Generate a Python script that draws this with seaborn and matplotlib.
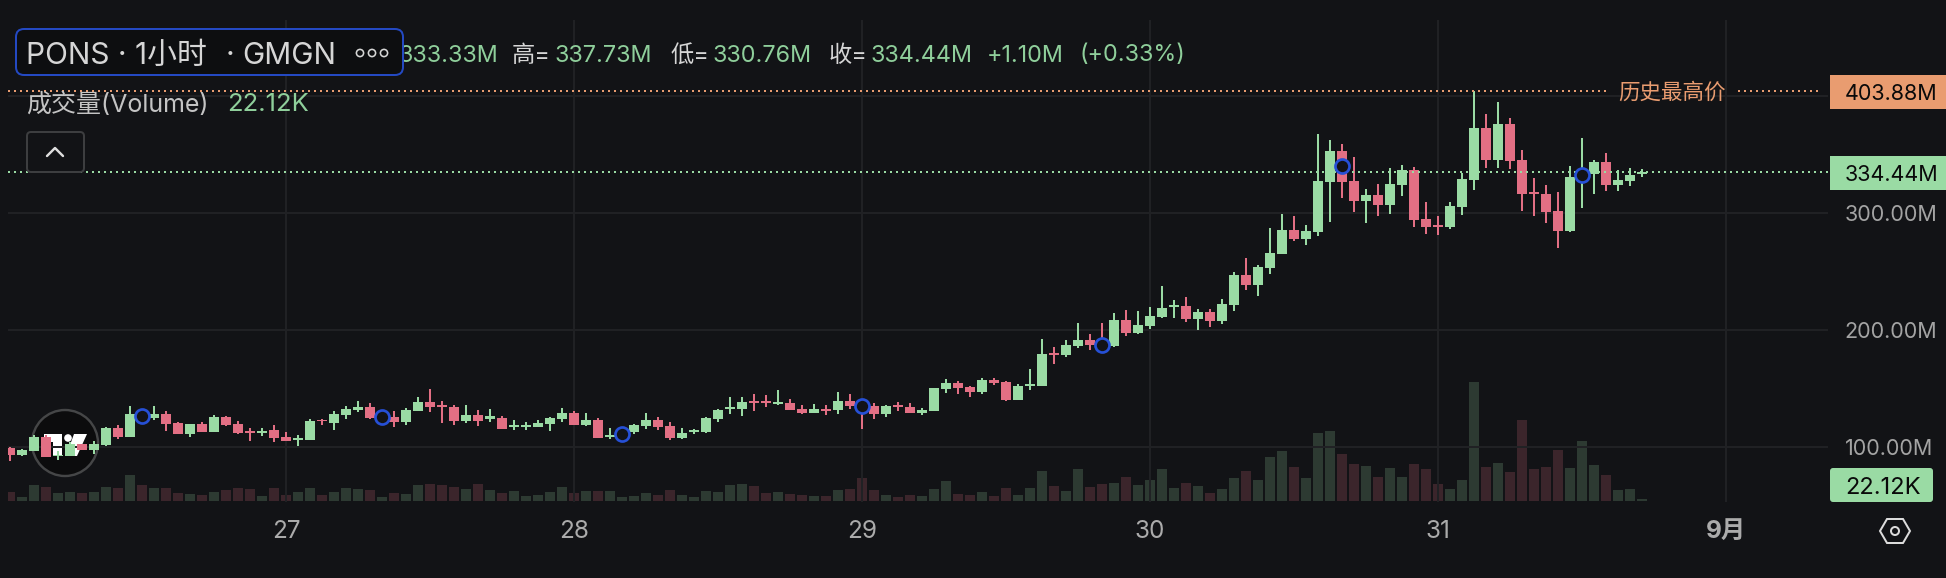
import numpy as np
import pandas as pd
import matplotlib
matplotlib.use("Agg")
import matplotlib.pyplot as plt
from matplotlib.patches import Circle, FancyBboxPatch, Polygon, Rectangle
import seaborn as sns

# 1 hour candles, prices in millions, volume in thousands
opens = [98.6,93.2,96.0,108.0,92.0,92.3,102.3,97.4,101.4,116.0,108.3,128.5,124.5,127.9,120.2,110.8,119.4,112.5,125.4,119.4,
         113.4,111.7,114.2,108.3,105.7,105.7,122.8,120.2,127.1,131.3,133.9,123.6,125.4,121.1,130.5,138.2,135.6,133.9,121.9,127.1,
         123.6,124.5,116.8,116.8,116.8,119.4,123.6,128.8,118.5,122.8,108.3,108.5,112.5,117.7,122.8,117.7,107.4,112.5,112.5,123.6,
         132.2,132.2,139.0,139.0,136.5,137.3,132.2,128.8,132.2,131.3,139.0,138.5,134.8,127.9,135.6,133.9,128.8,130.5,149.3,154.4,
         151.0,146.7,157.0,155.3,139.9,151.9,151.9,180.1,178.3,186.0,191.2,191.7,186.0,208.3,197.2,203.1,210.8,219.4,220.2,209.1,
         215.1,207.4,221.1,246.7,238.2,252.7,264.7,285.2,277.5,283.5,326.2,352.7,327.1,310.0,315.1,306.6,323.6,336.5,294.6,289.5,
         287.8,304.8,327.9,372.4,345.0,375.8,345.0,317.7,316.0,301.4,284.3,329.9,333.0,343.3,323.6,327.1,333.33]
highs = [99.4,98.0,109.7,109.7,96.3,104.3,102.3,104.8,116.8,118.5,134.8,129.9,134.8,130.5,121.1,119.4,121.1,127.1,126.2,121.9,
         116.0,116.0,118.5,112.5,110.0,123.6,123.6,130.5,134.8,139.0,137.3,129.9,130.5,133.0,142.5,149.3,139.0,135.6,135.6,131.3,
         132.2,126.2,122.8,121.1,122.8,125.4,133.0,130.5,128.8,124.5,116.0,115.7,119.4,128.8,125.4,121.1,116.0,115.1,125.4,132.2,
         142.5,142.5,145.0,144.2,148.4,140.7,135.6,136.5,135.6,146.7,145.0,139.9,137.3,135.6,138.2,137.3,133.0,150.1,157.8,156.1,
         151.9,158.7,158.7,156.1,153.6,166.4,192.0,185.2,191.2,205.7,196.3,205.7,214.2,216.8,216.0,219.4,237.3,225.4,227.9,217.7,
         217.7,226.2,249.3,261.3,255.3,286.9,298.9,297.2,289.5,367.2,362.1,358.7,347.6,320.2,324.5,338.2,340.7,339.0,309.1,297.2,
         309.1,333.9,403.88,384.3,394.6,380.9,353.6,329.6,323.6,317.7,339.9,363.8,345.0,351.0,336.5,338.2,337.73]
lows = [87.8,92.0,96.0,91.5,88.6,92.3,97.4,94.0,100.6,106.6,108.3,123.4,122.8,113.4,110.8,108.3,112.5,112.5,117.7,110.8,
        104.8,109.1,104.0,104.8,100.6,105.7,118.5,114.2,123.6,129.6,123.6,122.2,116.8,118.5,130.5,129.6,120.2,118.5,120.2,117.7,
        121.1,115.1,114.2,114.2,116.8,113.4,121.1,118.5,117.7,107.4,106.6,106.3,110.8,115.1,114.2,105.7,106.6,110.8,111.7,121.1,
        127.9,126.2,130.5,133.9,135.6,131.3,127.9,128.8,127.1,127.9,132.2,115.1,123.6,125.4,130.5,128.8,127.1,130.5,145.9,145.0,
        142.5,145.0,152.7,139.0,139.9,148.4,151.9,170.7,176.6,184.3,182.6,182.6,185.2,194.6,196.3,200.6,210.0,210.0,206.6,199.7,
        202.3,204.8,216.0,233.9,228.8,247.6,264.7,275.8,272.4,280.1,292.0,312.5,300.6,291.2,297.2,298.9,314.2,287.8,281.8,280.9,
        286.0,298.0,319.4,338.2,338.2,337.3,301.4,297.2,291.2,269.8,283.5,304.0,316.0,318.5,318.5,322.8,330.76]
closes = [93.2,97.2,108.0,91.5,93.2,102.3,97.4,102.3,116.0,108.3,127.9,124.8,127.9,119.4,110.8,119.4,112.5,125.4,118.5,111.7,
          111.7,113.4,107.4,104.8,107.4,121.9,121.9,127.9,132.2,133.9,124.5,127.1,121.1,131.3,138.2,133.9,133.9,121.9,127.1,121.9,
          126.2,115.1,118.5,118.5,120.2,124.5,128.8,118.5,122.8,107.4,110.0,114.2,118.5,122.8,116.8,107.4,111.7,114.2,124.5,131.3,
          133.9,138.2,137.3,137.3,138.2,131.3,128.8,132.2,130.5,139.0,134.8,131.3,127.9,134.8,133.9,128.8,131.3,150.1,154.4,150.1,
          146.7,157.0,154.4,139.9,151.9,153.6,179.2,178.3,186.9,191.2,186.9,184.0,208.3,197.2,204.0,211.7,218.5,221.1,209.1,215.1,
          207.4,221.9,246.7,238.2,253.6,265.5,285.2,277.5,284.3,327.1,352.7,326.2,310.0,315.1,306.6,324.5,336.5,293.7,287.8,287.8,
          305.7,328.8,372.4,345.0,375.8,344.2,316.0,316.0,300.6,284.3,330.5,333.6,343.3,323.6,327.9,332.2,334.44]
volumes = [119,53,212,186,106,119,106,119,186,172,345,212,172,172,106,93,80,119,146,172,
           159,66,172,80,119,172,80,119,172,159,146,53,106,93,212,225,212,186,159,225,
           146,106,133,66,80,119,186,106,133,133,133,53,66,106,80,146,80,53,133,119,
           212,225,199,106,119,93,80,66,66,146,159,305,146,80,53,80,66,159,265,93,
           80,119,66,172,80,172,398,199,133,424,186,225,239,318,212,278,424,172,239,199,
           106,159,305,398,278,583,663,451,305,902,928,623,491,464,318,438,318,491,424,225,
           159,278,1578,451,504,385,1074,424,451,676,438,796,477,345,146,159,22.12]

# blue event rings: candle index and price level
ring_idx = [11, 31, 51, 71, 91, 111, 131]
ring_price = [126.2, 125.4, 110.8, 134.8, 186.9, 339.9, 332.2]

day_idx = [23, 47, 71, 95, 119, 143]
day_labels = ["27", "28", "29", "30", "31", "9月"]
price_ticks = [100, 200, 300, 400]
price_labels = ["100.00M", "200.00M", "300.00M", ""]
ath_price = 403.88
last_price = 334.44

BG = "#121316"
GRID = "#202124"
GREEN = "#9ADBA4"
RED = "#E26F84"
TEXT_GREEN = "#8FCF9B"
ORANGE = "#E99C70"
BLUE = "#2650D6"
W, H = 1946, 578
LW = 0.72  # points per pixel at dpi 100

sns.set_theme(style="dark", rc={"figure.facecolor": BG, "axes.facecolor": BG, "savefig.facecolor": BG})
plt.rcParams["font.family"] = ["Inter", "Noto Sans CJK SC", "DejaVu Sans"]
plt.rcParams["lines.dash_capstyle"] = "butt"

df = pd.DataFrame({"idx": np.arange(len(opens)), "open": opens, "high": highs, "low": lows,
                   "close": closes, "vol": volumes})
df["up"] = df["close"] >= df["open"]
df["bottom"] = df[["open", "close"]].min(axis=1)
df["body"] = (df["close"] - df["open"]).abs()
df["color"] = np.where(df["up"], GREEN, RED)

fig = plt.figure(figsize=(W / 100, H / 100), dpi=100)
pos = [8 / W, 1 - 502 / H, (1828 - 8) / W, (502 - 20) / H]

# background layer, pixel coordinates, holds the logo that candles run over
bg = fig.add_axes([0, 0, 1, 1], zorder=0)
bg.set_xlim(0, W)
bg.set_ylim(H, 0)
bg.axis("off")
bg.add_patch(Circle((65, 443), 33, fc="#0C0C0D", ec="#454647", lw=2.4 * LW))
bg.add_patch(Polygon([(44, 434), (62, 434), (62, 456), (53, 456), (53, 442), (44, 442)], fc="white", lw=0))
bg.add_patch(Circle((68, 438), 3.8, fc="white", lw=0))
bg.add_patch(Polygon([(74, 434), (87, 434), (77, 456), (66, 456)], fc="white", lw=0))

# volume panel shares the plot area
ax_vol = fig.add_axes(pos, zorder=1)
ax_vol.patch.set_alpha(0)
for up, col in [(True, GREEN), (False, RED)]:
    sub = df[df["up"] == up]
    sns.barplot(data=sub, x="idx", y="vol", native_scale=True, color=col, saturation=1, width=10 / 12,
                errorbar=None, alpha=0.2, linewidth=0, ax=ax_vol)

# price panel
ax = fig.add_axes(pos, zorder=2)
ax.patch.set_alpha(0)
ax.vlines(df["idx"], df["low"], df["high"], colors=df["color"], linewidth=2 * LW, zorder=3)
for up, col in [(True, GREEN), (False, RED)]:
    sub = df[df["up"] == up]
    sns.barplot(data=sub, x="idx", y="body", bottom=sub["bottom"], native_scale=True, color=col, saturation=1,
                width=10 / 12, errorbar=None, linewidth=0, zorder=3, ax=ax)

sns.scatterplot(x=ring_idx, y=ring_price, s=102, marker="o", facecolor=BG, edgecolor=BLUE,
                linewidth=2.7 * LW, zorder=5, ax=ax)

for a in (ax, ax_vol):
    a.set_xlim(-1 / 6, 151.5)
    a.set_xlabel("")
    a.set_ylabel("")
ax.set_ylim(52.7, 464.7)
ax_vol.set_ylim(-13.3, 6383)
ax_vol.set_xticks([])
ax_vol.set_yticks([])

# x positions of the dotted lines, the ATH one leaves room for its label
ax.hlines(ath_price, -1 / 6, 133.1, colors=ORANGE, linewidth=2 * LW, linestyles=(0, (1, 2)), zorder=4)
ax.hlines(ath_price, 144, 151, colors=ORANGE, linewidth=2 * LW, linestyles=(0, (1, 2)), zorder=4)
ax.hlines(last_price, -1 / 6, 151.5, colors=GREEN, linewidth=2 * LW, linestyles=(0, (1, 2)), zorder=4)

ax.yaxis.tick_right()
ax.set_yticks(price_ticks)
ax.set_yticklabels(price_labels, color="#A3A3A3", fontsize=15.5)
ax.set_xticks(day_idx)
ax.set_xticklabels(day_labels, color="#ABABAB", fontsize=17.5)
ax.get_xticklabels()[-1].set_fontweight("bold")
ax.tick_params(axis="y", length=0, pad=12)
ax.tick_params(axis="x", length=0, pad=13)
ax.grid(True, color=GRID, linewidth=2 * LW, zorder=0)
ax.set_axisbelow(True)
sns.despine(ax=ax, left=True, bottom=True, right=True, top=True)
sns.despine(ax=ax_vol, left=True, bottom=True, right=True, top=True)

# top layer, pixel coordinates: legend header, price tags, buttons
top = fig.add_axes([0, 0, 1, 1], zorder=5)
top.set_xlim(0, W)
top.set_ylim(H, 0)
top.axis("off")


def label(x, y, s, color, size=16.8, **kw):
    top.text(x, y, s, color=color, fontsize=size, va="center_baseline", ha=kw.pop("ha", "left"), zorder=6, **kw)


GREY = "#D6D6D6"
# first value runs under the title box, as in the app
top.text(398, 53, "333.33M", color=TEXT_GREEN, fontsize=16.8, va="center_baseline", zorder=2)
label(512, 53, "高=", GREY)
label(554, 53, "337.73M", TEXT_GREEN)
label(671, 53, "低=", GREY)
label(713, 53, "330.76M", TEXT_GREEN)
label(829, 53, "收=", GREY)
label(871, 53, "334.44M", TEXT_GREEN)
label(987, 53, "+1.10M", TEXT_GREEN)
label(1080, 53, "(+0.33%)", TEXT_GREEN)

top.add_patch(FancyBboxPatch((16, 29), 387, 46, boxstyle="round,pad=0,rounding_size=8", fc="#0D0E10",
                             ec="#2449C2", lw=2 * LW, zorder=3))
label(26, 53, "PONS · 1小时", GREY, size=21.5)
label(226, 53, "·", GREY, size=21.5)
label(242, 53, "GMGN", GREY, size=21.5)
for cx in (360, 372, 384):
    top.add_patch(Circle((cx, 53), 3.6, fc="none", ec=GREY, lw=1.6 * LW, zorder=6))

label(26, 102, "成交量(Volume)", "#C4C4C4", size=18)
label(227, 102, "22.12K", TEXT_GREEN, size=18.5)

top.add_patch(FancyBboxPatch((27, 132), 57, 40, boxstyle="round,pad=0,rounding_size=4", fc=BG, ec="#3D3E40", lw=2 * LW))
top.plot([47, 55, 63], [156, 148, 156], color="#DEDEDE", lw=2.4 * LW)

label(1618, 90, "历史最高价", ORANGE, size=15.5)

top.add_patch(Rectangle((1830, 75), 116, 34, fc=ORANGE, lw=0))
label(1845, 92, "403.88M", "#0A0A0A", size=15.5)
top.add_patch(Rectangle((1830, 156), 116, 34, fc=GREEN, lw=0))
label(1845, 173, "334.44M", "#0A0A0A", size=15.5)
top.add_patch(FancyBboxPatch((1830, 468), 103, 34, boxstyle="round,pad=0,rounding_size=3", fc=GREEN, lw=0))
label(1845, 485, "22.12K", "#0A0A0A", size=17)

# settings hexagon
top.add_patch(Polygon([(1880, 531), (1887, 519), (1903, 519), (1910, 531), (1903, 543), (1887, 543)],
                      closed=True, fc="none", ec="#DCDCDC", lw=2 * LW))
top.add_patch(Circle((1895, 531), 4, fc="none", ec="#DCDCDC", lw=2 * LW))

fig.savefig("out.png", dpi=100)
